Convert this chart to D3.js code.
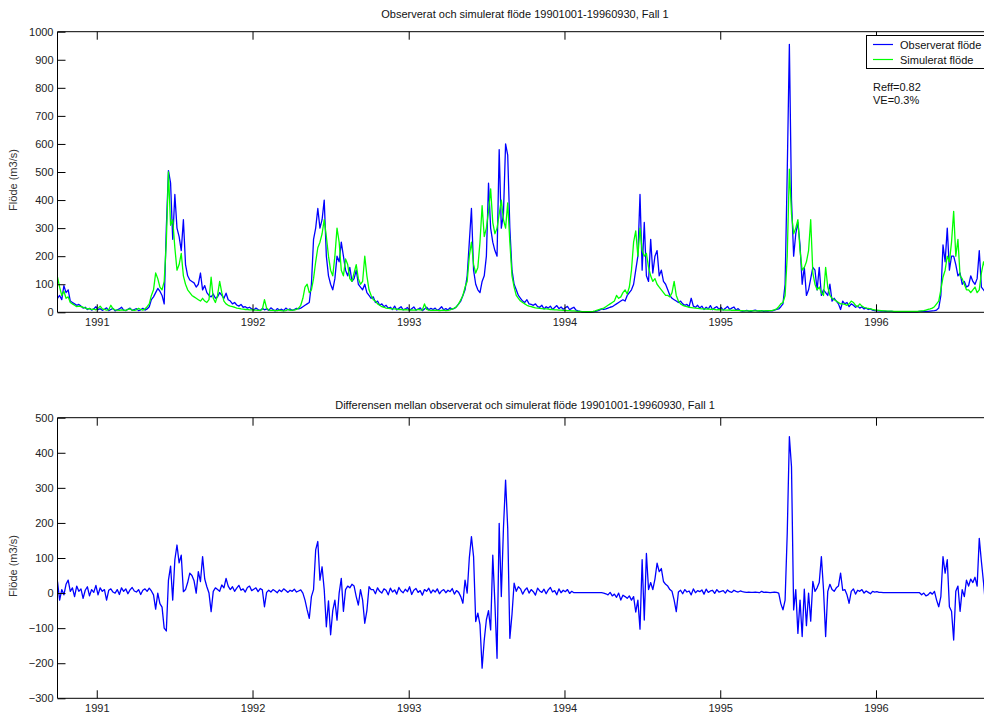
<!DOCTYPE html>
<html>
<head>
<meta charset="utf-8">
<script src="https://cdn.jsdelivr.net/npm/d3@7"></script>
<style>
  body { margin: 0; background: #fff; }
  svg { display: block; font-family: Arial, "Liberation Sans", sans-serif; }
</style>
</head>
<body>
<div id="chart"></div>
<script>
const startDate = Date.UTC(1990, 9, 1)
const endDate = Date.UTC(1996, 8, 30)
const stepDays = 5

const obsFlow = [
  50, 60, 45, 95, 70, 80, 40, 35, 30, 25, 28,
  22, 15, 18, 10, 14, 8, 12, 20, 9, 13,
  7, 11, 16, 6, 10, 14, 5, 9, 12, 18,
  8, 6, 11, 15, 7, 10, 13, 6, 9, 14, 8, 12, 20,
  45, 55, 70, 85, 75, 60, 30,
  300, 505, 460, 260, 420, 300, 270, 220, 330, 170, 130, 115,
  110, 105, 90, 100, 140, 80, 95, 70, 60, 55, 65, 50, 55, 70, 60, 50, 68, 45, 40, 30, 35, 26, 22, 28, 18, 20, 15, 18,
  12, 8, 15, 10, 6, 14, 9, 12, 7, 16, 10, 5, 13, 8, 11, 6, 15, 9, 12, 7, 10, 14,
  12, 15, 20, 25, 30, 35,
  100, 260, 300, 370, 300, 330, 400, 200, 130, 100, 80, 120, 200, 180, 250, 200, 150, 130, 160, 110,
  120, 150, 100, 90, 80, 100, 70, 60, 50, 55, 35, 40, 25, 30, 20, 25, 15,
  18, 10, 22, 8, 14, 20, 9, 12, 17, 7, 13, 19, 8, 11, 16, 6, 12, 18, 9, 14, 10, 15, 7, 12, 20, 9, 13, 8, 16, 11, 14,
  20, 30, 40, 60, 80, 130, 250, 370, 150, 100, 80, 70, 110, 130, 200, 460, 300, 250, 220, 200,
  580, 300, 350, 600, 560, 300, 150, 100, 80, 60, 50, 40, 35, 45, 30, 28, 25, 30, 20,
  18, 25, 12, 20, 15, 22, 10, 17, 24, 13, 19, 11, 16, 21, 9, 14, 18, 8, 5, 3, 2, 2, 1, 1, 1, 2, 3, 5, 8, 12, 10,
  12, 15, 18, 20, 25, 30, 35, 40, 45, 40, 60, 70, 80, 100, 150, 200, 420, 150, 320, 130,
  110, 260, 140, 200, 220, 130, 150, 110, 100, 80, 60, 50, 45, 40, 35, 40, 30, 25, 28, 20, 50, 22, 18, 25,
  15, 22, 10, 18, 12, 24, 9, 16, 20, 11, 17, 8, 14, 21, 10, 15, 19, 8, 13, 6,
  4, 5, 7, 4, 3, 6, 8, 5, 4, 6, 3, 5, 4, 6, 5, 8, 10, 12, 20, 30,
  100, 500, 955, 400, 200, 280, 320, 240, 100, 160, 60, 80, 120, 160, 150, 80, 160, 60, 80, 70,
  60, 100, 40, 50, 40, 30, 10, 40, 30, 35, 20, 30, 25, 18, 22, 15, 20, 12, 15, 10, 12, 8, 6, 5,
  5, 4, 4, 3, 3, 3, 3, 2, 2, 2, 2, 2, 2, 2, 2, 2, 2, 2, 2, 3, 3, 3, 3, 3, 4, 5, 6,
  8, 15, 60, 240, 180, 300, 150, 200, 200, 170, 130, 140, 100, 110, 90, 95, 130, 110, 100, 120, 220, 90, 80, 70, 90, 80, 70
]

const simFlow = [
  125, 90, 60, 75, 50, 55, 35, 30, 25, 20, 22,
  20, 18, 15, 12, 13, 10, 11, 9, 14, 22,
  12, 10, 8, 9, 25, 12, 9, 8, 7, 9,
  8, 7, 10, 12, 8, 7, 9, 14, 10, 8, 12, 20, 30,
  60, 80, 140, 120, 90, 80, 110,
  250, 500, 310, 330, 230, 150, 170, 210, 130, 100, 80, 70,
  60, 55, 50, 45, 40, 50, 40, 35, 45, 125, 50, 35, 60, 110, 70, 40, 30, 25, 22, 20, 18, 15, 14, 12, 11, 10, 10, 9,
  9, 8, 8, 7, 7, 10, 45, 15, 8, 7, 7, 6, 6, 8, 6, 5, 6, 10, 7, 8, 8, 10,
  15, 25, 50, 90, 100, 70,
  80, 120, 180, 230, 250, 280, 330, 270, 200, 150, 130, 200, 300, 250, 150, 130, 190, 170, 120, 110,
  140, 170, 120, 100, 110, 200, 130, 80, 60, 45, 40, 30, 25, 20, 18, 15, 14,
  13, 12, 12, 11, 10, 10, 9, 10, 9, 8, 9, 8, 8, 10, 9, 8, 30, 10, 8, 7, 7, 8, 7, 6, 7, 8, 6, 7, 9, 12, 15,
  20, 30, 45, 60, 90, 110, 200, 250, 170, 140, 160, 250, 380, 270, 300, 360, 440, 320, 280, 300,
  350, 400, 330, 300, 390, 250, 130, 90, 60, 50, 40, 35, 30, 25, 22, 20, 18, 16, 15,
  14, 13, 12, 12, 11, 10, 10, 9, 9, 8, 8, 7, 7, 6, 6, 5, 5, 4, 3, 3, 2, 2, 2, 2, 2, 3, 5, 8, 10, 12, 15,
  20, 25, 30, 35, 40, 60, 50, 55, 70, 80, 65, 90, 150, 250, 290, 200, 300, 220, 200, 210,
  160, 130, 110, 120, 100, 90, 80, 70, 60, 60, 55, 70, 110, 60, 40, 30, 25, 22, 20, 18, 17, 16, 15, 14,
  13, 12, 12, 11, 12, 10, 11, 10, 9, 10, 9, 9, 8, 8, 9, 7, 8, 7, 7, 6,
  6, 5, 5, 5, 6, 5, 5, 5, 6, 5, 5, 5, 6, 6, 7, 9, 12, 20, 30, 35,
  60, 200, 510, 350, 280, 300, 330, 220, 150, 160, 180, 220, 330, 140, 100, 80, 90, 70, 60, 160,
  90, 60, 50, 45, 40, 35, 30, 30, 28, 25, 30, 40, 35, 25, 20, 30, 22, 18, 15, 14, 12, 10, 9, 8,
  7, 6, 5, 5, 4, 4, 4, 3, 3, 3, 3, 3, 3, 3, 3, 3, 3, 3, 3, 4, 5, 6, 8, 10, 12, 15, 20,
  30, 40, 80, 125, 150, 200, 180, 250, 360, 200, 260, 130, 120, 100, 80, 80, 70, 80, 90, 70, 80, 140, 180, 150, 100, 90, 80
]

const flowDiff = [
  33, -20, 10, -5, 25, 37, 5, 15, -10, 20, 5,
  12, -15, 8, 18, -8, 10, 2, 22, -5, 15,
  5, 10, -20, 8, 12, 3, 0, 10, -4, 15,
  5, 12, -2, 9, 16, 6, 3, 10, -4, 8, 12, 5, 14,
  6, -5, -46, 0, -30, -40, -100, -108, 37, 77, -20, 95, 137, 86, 108, 4, 10, 30, 57, 50,
  35, 0, 61, 33, 104, 40, 18, 0, -53, 5, 15, 10, 5, 23, 15, 42, 20, 10,
  18, 5, 14, 22, 8, 12, 3, 16, 20, 7, 11, 15, 4, 13, 9, -39, 2,
  8, 3, 10, 6, 1, 9, 4, 12, 7, 2, 8, 5, 11, 3, 6, 9,
  0, -20, -48, -72, -10, 10, 123, 147, 37, 75, 10, -96, -22, -119, -50, -20, -77, 0, 42, -52,
  10, 20, 15, 25, 20, -10, -34, 10, -20, -86, -50, 18, 10,
  10, -2, 15, 5, 0, 12, 8, -5, 14, 3, 9, -3, 16, 6, 1, 11, 4, 18, -4, 8,
  13, 2, 7, -6, 10, 5, 14, 0, 9, 3, 12, -2, 6, 10, 1, 8, 4, 13, -3, 7, 2,
  -10, -29, 37, 0, 100, 161, 104, -81, -57, -90, -214, -134, -76, -50, -105, 108, -30, -186, 199, -10,
  185, 322, 185, -129, -61, 28, 5, 18,
  12, -3, 8, 15, 0, 10, 4, -6, 14, 6, 2, 11, -2, 9, 16, 3, 7, -5, 12, 1, 8, 4, 10, -1, 5,
  1, 1, 1, 1, 1, 1, 1, 1, 1, 1, 1, 1, 1, 1, 0, -2,
  -5, 2, -8, -3, -12, 0, -20, -6, -10, -15, -8,
  -20, -10, -54, -20, -103, 95, -77, 113, 10, 30, 10, 40, 85, 61, 70, 33, 25, 20, 10, 5, -20, -53, 3,
  8, -2, 10, 3, 6, -5, 12, 1, 7, 4, 9, -3, 11, 2, 6, 8, -1, 10, 3, 5, 7, 0, 9, 4, 2, 8, 5, 3, 6, 4,
  3, 2, 3, 2, 2, 3, 2, 1, 5, 2, 3, 2, 1, 2, 3, 2,
  0, -30, -48, -20, 170, 446, 360, -48, 10, -115, -20, -124, 11, -93, 0, -80, 33, 5, 15, 30,
  104, 10, -124, 5, 25, 10, 5, 15, 20, 57, 8, 10, -5, -29, 5, 12, -3, 8, 5, 10, 0, 6, 2, -2, 5, 3, 4,
  2, 2, 1, 1, 1, 1, 1, 1, 1, 1, 1, 1, 1, 1, 1, 1, 1, 1, 1, 1,
  -5, 0, -8, -5, 2, -3, 5, -20, -39, -10, 104, 57, 95, -39, -52, -134, 5, 20, -52, 10,
  -10, 37, 20, 40, 30, 45, 20, 156, 90, 30, -39, 0, 20, 10
]

const yearTicks = [1991, 1992, 1993, 1994, 1995, 1996]
const flowTicks = [0, 100, 200, 300, 400, 500, 600, 700, 800, 900, 1000]
const diffTicks = [-300, -200, -100, 0, 100, 200, 300, 400, 500]

const topTitle = "Observerat och simulerat flöde 19901001-19960930, Fall 1"
const bottomTitle = "Differensen mellan observerat och simulerat flöde 19901001-19960930, Fall 1"
const yLabel = "Flöde (m3/s)"
const legendNames = ["Observerat flöde", "Simulerat flöde"]
const statsText = ["Reff=0.82", "VE=0.3%"]

const W = 984, H = 713
const left = 57.5, right = 992.5

const dateOf = i => new Date(startDate + i * stepDays * 86400000)

const x = d3.scaleUtc()
  .domain([new Date(startDate), new Date(endDate)])
  .range([left, right])

const svg = d3.select("#chart").append("svg")
  .attr("width", W)
  .attr("height", H)

svg.append("rect").attr("width", W).attr("height", H).attr("fill", "#fff")

function drawPanel(top, bottom, domain, ticks, title, titleY, labelY, series) {
  const y = d3.scaleLinear().domain(domain).range([bottom, top])
  const g = svg.append("g")

  const clipId = "clip" + Math.round(top)
  svg.append("clipPath").attr("id", clipId)
    .append("rect")
    .attr("x", left).attr("y", top - 2)
    .attr("width", right - left).attr("height", bottom - top + 4)

  // data lines
  const line = d3.line()
    .x((d, i) => x(dateOf(i)))
    .y(d => y(d))

  series.forEach(s => {
    g.append("path")
      .datum(s.values)
      .attr("clip-path", `url(#${clipId})`)
      .attr("fill", "none")
      .attr("stroke", s.color)
      .attr("stroke-width", 1.3)
      .attr("stroke-linejoin", "round")
      .attr("d", line)
  })

  const yearDates = yearTicks.map(yr => new Date(Date.UTC(yr, 0, 1)))

  // bottom axis
  g.append("g")
    .attr("transform", `translate(0,${bottom})`)
    .call(d3.axisBottom(x).tickValues(yearDates).tickFormat(d3.utcFormat("%Y"))
      .tickSize(-8).tickPadding(6).tickSizeOuter(0))
    .call(a => a.select(".domain").remove())

  // top axis (ticks only)
  g.append("g")
    .attr("transform", `translate(0,${top})`)
    .call(d3.axisTop(x).tickValues(yearDates).tickFormat("")
      .tickSize(-8).tickSizeOuter(0))
    .call(a => a.select(".domain").remove())

  // left axis
  g.append("g")
    .attr("transform", `translate(${left},0)`)
    .call(d3.axisLeft(y).tickValues(ticks).tickFormat(d3.format("d"))
      .tickSize(-8).tickPadding(4).tickSizeOuter(0))
    .call(a => a.select(".domain").remove())

  g.selectAll(".tick line").attr("stroke", "#000")
  g.selectAll(".tick text")
    .attr("fill", "#222")
    .style("font-size", "11px")
    .style("font-family", "Arial, 'Liberation Sans', sans-serif")

  // axes box
  g.append("path")
    .attr("d", `M${right},${top}H${left}V${bottom}H${right}`)
    .attr("fill", "none")
    .attr("stroke", "#000")
    .attr("stroke-width", 1)

  svg.append("text")
    .attr("x", (left + right) / 2)
    .attr("y", titleY)
    .attr("text-anchor", "middle")
    .attr("fill", "#111")
    .style("font-size", "11px")
    .text(title)

  svg.append("text")
    .attr("transform", `translate(17,${labelY}) rotate(-90)`)
    .attr("text-anchor", "middle")
    .attr("fill", "#333")
    .style("font-size", "11px")
    .text(yLabel)

  return y
}

drawPanel(31.7, 312.3, [0, 1000], flowTicks, topTitle, 18, 180, [
  { values: obsFlow, color: "#0000ff" },
  { values: simFlow, color: "#00ff00" }
])

drawPanel(417.7, 698.3, [-300, 500], diffTicks, bottomTitle, 408.5, 566, [
  { values: flowDiff, color: "#0000ff" }
])

// legend
const legend = svg.append("g")
legend.append("rect")
  .attr("x", 866.5).attr("y", 35.5)
  .attr("width", 130).attr("height", 33)
  .attr("fill", "#fff").attr("stroke", "#000")

const legendColors = ["#0000ff", "#00ff00"]
legendNames.forEach((name, i) => {
  const ly = 44.5 + i * 15
  legend.append("line")
    .attr("x1", 873).attr("x2", 893)
    .attr("y1", ly).attr("y2", ly)
    .attr("stroke", legendColors[i]).attr("stroke-width", 1.2)
  legend.append("text")
    .attr("x", 900).attr("y", ly + 4)
    .attr("fill", "#111")
    .style("font-size", "11px")
    .text(name)
})

statsText.forEach((t, i) => {
  svg.append("text")
    .attr("x", 873).attr("y", 91 + i * 13)
    .attr("fill", "#111")
    .style("font-size", "11px")
    .text(t)
})
</script>
</body>
</html>
